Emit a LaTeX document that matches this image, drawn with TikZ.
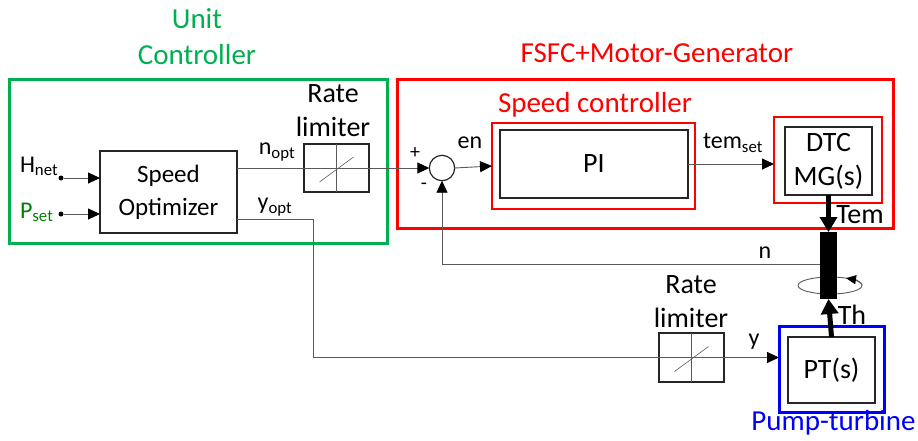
\documentclass[tikz,border=0pt]{standalone}
\usepackage{fontspec}
\setmainfont{Carlito}
\usetikzlibrary{arrows.meta}
\definecolor{unitgreen}{RGB}{0,176,80}
\definecolor{psetgreen}{RGB}{0,128,0}
\definecolor{siggray}{RGB}{90,90,90}
\definecolor{boxgray}{RGB}{38,38,38}
\begin{document}
\begin{tikzpicture}[x=1pt, y=-1pt, inner sep=0pt, outer sep=0pt,
  lbl/.style={font=\fontsize{24}{34}\selectfont, align=center},
  big/.style={font=\fontsize{28}{34}\selectfont, align=center},
  ttl/.style={font=\fontsize{29}{36}\selectfont, align=center},
  blk/.style={draw=boxgray, line width=1.4pt, big},
  frame/.style={line width=3pt},
  subframe/.style={draw=red, line width=2.4pt},
  sig/.style={draw=siggray, line width=0.9pt},
  arr/.style={-{Triangle[length=12pt,width=11pt,color=black]}},
  torque/.style={line width=5pt, -{Triangle[length=15pt,width=17pt]}},
  dot/.style={circle, fill=black, minimum size=5pt}]
\useasboundingbox (0,0) rectangle (918,440);
% frames
\node[frame, draw=unitgreen, minimum width=378, minimum height=164] (unit) at (198,161) {};
\node[frame, draw=red, minimum width=496, minimum height=149] (fsfc) at (645,153.5) {};
\node[frame, draw=blue, minimum width=105, minimum height=86] (pumpt) at (831.5,369) {};
\node[ttl, text=unitgreen] (unitlbl) at (197,37) {Unit\\Controller};
\node[ttl, text=red] (fsfclbl) at (657,53) {FSFC+Motor-Generator};
\node[ttl, text=red] (sclbl) at (595,105) {Speed controller};
\node[ttl, text=blue] (ptlbl) at (833.5,423) {Pump-turbine};
% blocks
\node[blk, font=\fontsize{25}{33}\selectfont, minimum width=137, minimum height=82] (opt) at (168.5,192) {Speed\\Optimizer};
\node[blk, minimum width=65, minimum height=48] (rlim) at (336.5,168) {};
\node[blk, minimum width=65, minimum height=49] (rlimb) at (691.5,357.5) {};
\node[big] (rlimlbl) at (333,111) {Rate\\limiter};
\node[big] (rlimblbl) at (691,302) {Rate\\limiter};
\node[draw=boxgray, line width=1.2pt, circle, minimum size=25.4pt] (sum) at (442,168) {};
\node[subframe, minimum width=203, minimum height=86] (sc) at (593.5,166) {};
\node[blk, minimum width=188, minimum height=68] (pi) at (594,164) {PI};
\node[subframe, minimum width=108, minimum height=86] (mgr) at (828,160) {};
\node[blk, minimum width=87, minimum height=68] (mg) at (828.5,161) {DTC\\MG(s)};
\node[blk, minimum width=87, minimum height=66] (pt) at (831.5,370) {PT(s)};
% shaft
\draw[sig] (830,285.5) ellipse [x radius=32, y radius=8.5];
\draw[sig, -{Triangle[length=10pt,width=9pt,color=black]}] (862,285.5) arc [start angle=0, end angle=-60, x radius=32, y radius=8.5];
\node[fill=black, minimum width=17, minimum height=67] (shaft) at (828.5,265.5) {};
% inputs
\node[dot] (hnet) at (61,178) {};
\node[dot] (pset) at (61,214) {};
\node[lbl, anchor=base west] at (20,172) {H\textsubscript{net}};
\node[lbl, anchor=base west, text=psetgreen] at (20,218) {P\textsubscript{set}};
\draw[sig, arr] (hnet) -- (opt.west |- hnet);
\draw[sig, arr] (pset) -- (opt.west |- pset);
% signals
\coordinate (noptc) at (opt.east |- rlim);
\draw[sig, arr] (noptc) -- (sum.west);
\foreach \r in {rlim, rlimb} {
  \draw[sig] (\r.north) -- (\r.south) (\r.west) -- (\r.east);
  \draw[sig, line width=0.6pt] ([shift={(-17,14)}]\r.center) -- ([shift={(17,-11)}]\r.center);
}
\draw[sig, arr] (sum.east) -- (sc.west);
\draw[sig, arr] (pi.east) -- (mgr.west |- pi.east);
\coordinate (yoptc) at (237,219);
\coordinate (yturn) at (313,219);
\draw[sig, arr] (yoptc) -- (yturn) -- (yturn |- rlimb) -- (pumpt.west |- rlimb);
\coordinate (nc) at (shaft.west |- 0,264);
\draw[sig, arr] (nc) -- (sum.south |- nc) -- (sum.south);
\draw[torque] (mg.south) -- (shaft.north);
\draw[torque] (pt.north) -- (shaft.south);
% labels
\node[lbl] at (277,152) {n\textsubscript{opt}};
\node[lbl] at (275,207) {y\textsubscript{opt}};
\node[lbl] at (470,143) {en};
\node[lbl] at (733,143) {tem\textsubscript{set}};
\node[big] at (860,215) {Tem};
\node[big] at (852,315) {Th};
\node[lbl] at (765,253) {n};
\node[lbl] at (754,342) {y};
\node[font=\fontsize{20}{20}\selectfont] at (415,153) {+};
\node[font=\fontsize{20}{20}\selectfont] at (424,186) {-};
\end{tikzpicture}
\end{document}
